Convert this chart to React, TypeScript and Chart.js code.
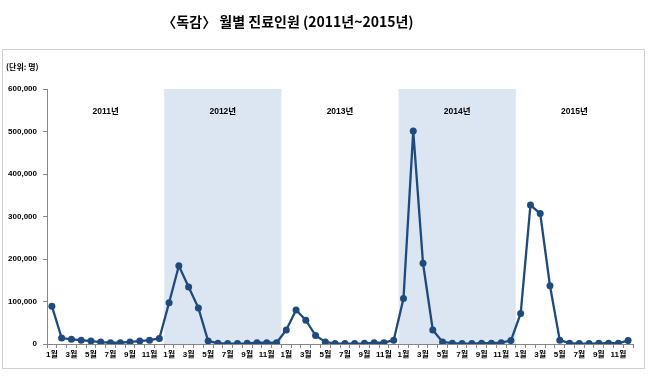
import React, { useEffect, useRef } from "react";
import { Chart, registerables } from "chart.js";

Chart.register(...registerables);

const years = ["2011년", "2012년", "2013년", "2014년", "2015년"];
const monthLabels = ["1월", "", "3월", "", "5월", "", "7월", "", "9월", "", "11월", ""];
const v2011 = [89000, 14000, 11000, 9000, 7000, 4500, 3000, 3000, 5000, 7000, 9000, 13000];
const v2012 = [97000, 184000, 134000, 85000, 7000, 2000, 1000, 1000, 1500, 3000, 3000, 3000];
const v2013 = [33000, 80000, 56000, 20000, 5000, 1000, 1000, 1000, 1500, 3000, 3000, 9000];
const v2014 = [107000, 501000, 190000, 33000, 5000, 2000, 1000, 1000, 2000, 2000, 3000, 8000];
const v2015 = [72000, 327000, 307000, 137000, 9000, 2000, 1000, 1000, 1500, 2000, 2000, 8000];
const shadedYears = [1, 3];
const yTicksMax = 600000;
const yTickStep = 100000;
const title = "〈독감〉 월별 진료인원 (2011년~2015년)";
const unitLabel = "(단위: 명)";

const FONT = '"Liberation Sans", "Noto Sans CJK KR", sans-serif';

export default function App() {
  const ref = useRef<HTMLCanvasElement | null>(null);
  useEffect(() => {
    if (!ref.current) return;
    const labels: string[] = [];
    years.forEach(() => monthLabels.forEach((m) => labels.push(m)));
    const data = [...v2011, ...v2012, ...v2013, ...v2014, ...v2015];

    const decor = {
      id: "decor",
      beforeDraw(chart: any) {
        const ctx = chart.ctx;
        ctx.save();
        ctx.fillStyle = "#ffffff";
        ctx.fillRect(0, 0, chart.width, chart.height);
        ctx.strokeStyle = "#d0d0d0";
        ctx.lineWidth = 1;
        ctx.strokeRect(2.5, 49.5, 642, 319);
        ctx.fillStyle = "#000";
        ctx.textAlign = "center";
        ctx.textBaseline = "middle";
        ctx.font = 'bold 14px "Noto Sans CJK KR", sans-serif';
        ctx.fillText(title, 288, 22);
        ctx.textAlign = "left";
        ctx.font = 'bold 8px "Noto Sans CJK KR", sans-serif';
        ctx.fillText(unitLabel, 6, 67);
        ctx.restore();
      },
      beforeDatasetsDraw(chart: any) {
        const ctx = chart.ctx;
        const xs = chart.scales.x;
        const area = chart.chartArea;
        const half = (xs.getPixelForValue(1) - xs.getPixelForValue(0)) / 2;
        ctx.save();
        shadedYears.forEach((yi) => {
          const l = xs.getPixelForValue(yi * 12) - half;
          const r = xs.getPixelForValue(yi * 12 + 11) + half;
          ctx.fillStyle = "#dce6f2";
          ctx.fillRect(l, area.top, r - l, area.bottom - area.top);
        });
        ctx.fillStyle = "#000";
        ctx.textAlign = "center";
        ctx.textBaseline = "middle";
        ctx.font = `bold 8.5px ${FONT}`;
        years.forEach((y, yi) => {
          const l = xs.getPixelForValue(yi * 12) - half;
          const r = xs.getPixelForValue(yi * 12 + 11) + half;
          ctx.fillText(y, (l + r) / 2, 112);
        });
        ctx.restore();
      },
    };

    const chart = new Chart(ref.current, {
      type: "line",
      data: {
        labels,
        datasets: [
          {
            data,
            borderColor: "#1f4a7d",
            backgroundColor: "#1f4a7d",
            borderWidth: 2.3,
            pointRadius: 3.5,
            pointBackgroundColor: "#1f4a7d",
            pointBorderWidth: 0,
            tension: 0,
          },
        ],
      },
      options: {
        animation: false,
        responsive: false,
        maintainAspectRatio: false,
        layout: { padding: { left: 0, right: 24, top: 89, bottom: 13 } },
        plugins: { legend: { display: false }, tooltip: { enabled: false }, title: { display: false } },
        scales: {
          x: {
            offset: true,
            afterFit(scale: any) {
              scale.height = 20;
            },
            grid: {
              offset: true,
              drawOnChartArea: false,
              drawTicks: true,
              tickLength: 4,
              color: "#868686",
            },
            border: { color: "#868686", width: 1 },
            ticks: {
              autoSkip: false,
              maxRotation: 0,
              minRotation: 0,
              padding: 2,
              color: "#000",
              font: { family: FONT, size: 8, weight: "bold" },
            },
          },
          y: {
            min: 0,
            max: yTicksMax,
            afterFit(scale: any) {
              scale.width = 47;
            },
            grid: { drawOnChartArea: false, tickLength: 4, color: "#868686" },
            border: { color: "#868686", width: 1 },
            ticks: {
              stepSize: yTickStep,
              padding: 6,
              color: "#000",
              font: { family: FONT, size: 8, weight: "bold" },
              callback: (v: any) => Number(v).toLocaleString("en-US"),
            },
          },
        },
      },
      plugins: [decor],
    } as any);
    return () => chart.destroy();
  }, []);

  return (
    <div style={{ position: "fixed", left: 0, top: 0, width: 657, height: 377, background: "#fff" }}>
      <canvas ref={ref} width={657} height={377} style={{ display: "block", width: 657, height: 377 }} />
    </div>
  );
}
